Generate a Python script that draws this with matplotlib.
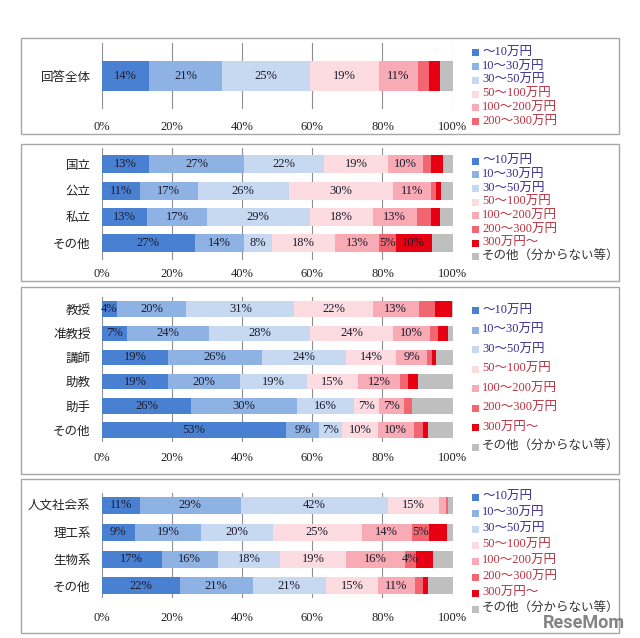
import matplotlib
matplotlib.use('Agg')
import matplotlib.pyplot as plt
from matplotlib.patches import Rectangle
import numpy as np

plt.rcParams['font.family'] = ['Liberation Serif', 'Noto Sans CJK JP']

# ---------------- data ----------------
series = ['～10万円', '10～30万円', '30～50万円', '50～100万円', '100～200万円',
          '200～300万円', '300万円～', 'その他（分からない等）']
colors = ['#4a80d2', '#8eb2e4', '#c7d9f1', '#fcdce1', '#f8aab5', '#f26672', '#e60012', '#bfbfbf']
legend_text_colors = ['#3a2d93'] * 3 + ['#b83240'] * 4 + ['#333333']

cats1 = ['回答全体']
vals1 = [[13.5, 20.7, 25.2, 19.5, 11.3, 3.0, 3.2, 3.6]]
labs1 = [['14%', '21%', '25%', '19%', '11%', '', '', '']]

cats2 = ['国立', '公立', '私立', 'その他']
vals2 = [[13.5, 27.1, 22.6, 18.5, 9.8, 2.4, 3.2, 2.9],
         [10.9, 16.4, 26.1, 29.6, 10.7, 1.4, 1.6, 3.3],
         [13.0, 16.9, 29.4, 17.9, 12.5, 4.0, 2.8, 3.5],
         [26.6, 13.8, 8.1, 18.0, 12.6, 4.7, 10.2, 6.0]]
labs2 = [['13%', '27%', '22%', '19%', '10%', '', '', ''],
         ['11%', '17%', '26%', '30%', '11%', '', '', ''],
         ['13%', '17%', '29%', '18%', '13%', '', '', ''],
         ['27%', '14%', '8%', '18%', '13%', '5%', '10%', '']]

cats3 = ['教授', '准教授', '講師', '助教', '助手', 'その他']
vals3 = [[4.3, 19.8, 30.8, 22.4, 13.0, 4.7, 4.7, 0.3],
         [7.1, 23.6, 28.7, 23.7, 10.4, 2.2, 3.0, 1.3],
         [19.0, 26.6, 24.0, 14.2, 8.9, 1.5, 0.9, 4.9],
         [19.0, 20.4, 19.0, 14.7, 11.9, 2.2, 2.8, 10.0],
         [25.5, 30.1, 16.3, 7.2, 7.0, 2.4, 0.0, 11.5],
         [52.5, 9.4, 6.7, 10.0, 10.4, 2.4, 1.6, 7.0]]
labs3 = [['4%', '20%', '31%', '22%', '13%', '', '', ''],
         ['7%', '24%', '28%', '24%', '10%', '', '', ''],
         ['19%', '26%', '24%', '14%', '9%', '', '', ''],
         ['19%', '20%', '19%', '15%', '12%', '', '', ''],
         ['26%', '30%', '16%', '7%', '7%', '', '', ''],
         ['53%', '9%', '7%', '10%', '10%', '', '', '']]

cats4 = ['人文社会系', '理工系', '生物系', 'その他']
vals4 = [[10.9, 28.7, 42.1, 14.4, 2.0, 0.5, 0.2, 1.2],
         [9.5, 18.8, 20.4, 25.4, 14.2, 5.0, 5.1, 1.6],
         [17.1, 16.0, 17.8, 18.8, 16.6, 3.3, 4.9, 5.5],
         [22.3, 20.7, 20.9, 14.9, 10.4, 2.2, 1.6, 7.0]]
labs4 = [['11%', '29%', '42%', '15%', '', '', '', ''],
         ['9%', '19%', '20%', '25%', '14%', '5%', '', ''],
         ['17%', '16%', '18%', '19%', '16%', '4%', '', ''],
         ['22%', '21%', '21%', '15%', '11%', '', '', '']]

xticks = [0, 20, 40, 60, 80, 100]
xticklabels = ['0%', '20%', '40%', '60%', '80%', '100%']

# ---------------- layout ----------------
W, H = 640, 638
fig = plt.figure(figsize=(W / 100, H / 100), dpi=100)


def fx(x):
    return x / W


def fy(y):
    return 1 - y / H


panels = [
    dict(cats=cats1, vals=vals1, labs=labs1, ax=(101.7, 43, 452.7, 109), ylim=(0.75, -0.75),
         bh=0.67, pad=9, box=(21, 38, 619, 134), leg_y=52.7, leg_dy=13.8, nleg=6),
    dict(cats=cats2, vals=vals2, labs=labs2, ax=(101.7, 148, 452.7, 260), ylim=(3.63, -0.61),
         bh=0.68, pad=6, box=(21, 144, 619, 281), leg_y=161, leg_dy=13.7, nleg=8),
    dict(cats=cats3, vals=vals3, labs=labs3, ax=(101.7, 297, 452.7, 441.7), ylim=(5.48, -0.5),
         bh=0.64, pad=7.5, box=(21, 287, 619, 474), leg_y=310.7, leg_dy=19.5, nleg=8),
    dict(cats=cats4, vals=vals4, labs=labs4, ax=(101.7, 493, 452.7, 598), ylim=(3.45, -0.46),
         bh=0.63, pad=10, box=(21, 479, 619, 633), leg_y=497, leg_dy=16.0, nleg=8),
]

for p in panels:
    # panel frame
    bx0, by0, bx1, by1 = p['box']
    fig.add_artist(Rectangle((fx(bx0), fy(by1)), fx(bx1) - fx(bx0), fy(by0) - fy(by1),
                             transform=fig.transFigure, fill=False, ec='#a6a6a6', lw=1.0))
    l, t, r, b = p['ax']
    ax = fig.add_axes([fx(l), fy(b), fx(r) - fx(l), fy(t) - fy(b)])
    vals = np.array(p['vals'])
    y = np.arange(len(p['cats']))
    left = np.zeros(len(y))
    for j in range(vals.shape[1]):
        ax.barh(y, vals[:, j], left=left, height=p['bh'], color=colors[j], lw=0, zorder=2)
        for i in range(len(y)):
            lab = p['labs'][i][j]
            if lab:
                ax.text(left[i] + vals[i, j] / 2, y[i], lab, ha='center', va='center',
                        fontsize=9, color='#1c1c2c', zorder=3)
        left = left + vals[:, j]
    ax.set_xlim(0, 100)
    ax.set_ylim(*p['ylim'])
    ax.set_yticks(y)
    ax.set_yticklabels(p['cats'], fontsize=9, color='#222222')
    ax.set_xticks(xticks)
    ax.set_xticklabels(xticklabels, fontsize=9, color='#222222')
    ax.tick_params(axis='y', length=0, pad=8)
    ax.tick_params(axis='x', length=0, pad=p['pad'])
    ax.xaxis.grid(True, color='#8f8f8f', lw=0.8, zorder=0)
    ax.set_axisbelow(True)
    for s in ax.spines.values():
        s.set_visible(False)
    ax.patch.set_alpha(0)
    # legend
    for k in range(p['nleg']):
        yy = p['leg_y'] + k * p['leg_dy']
        fig.add_artist(Rectangle((fx(471.5), fy(yy + 3.5)), 7 / W, 7 / H,
                                 transform=fig.transFigure, fc=colors[k], ec='none'))
        fig.text(fx(482), fy(yy), series[k], ha='left', va='center', fontsize=9,
                 color=legend_text_colors[k])

# watermark
fig.text(fx(584), fy(623), 'ReseMom', ha='center', va='center', fontsize=13,
         fontweight='bold', family='Roboto', color='#6e6e6e', alpha=0.85)

fig.savefig('out.png', dpi=100, facecolor='white')
